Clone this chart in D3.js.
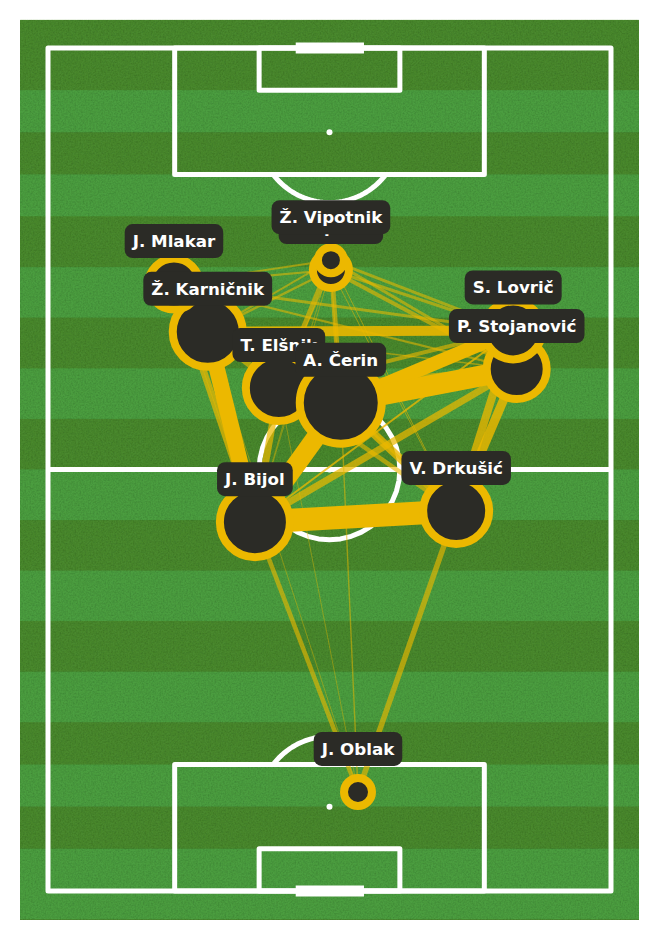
<!DOCTYPE html>
<html><head><meta charset="utf-8">
<script src="https://cdnjs.cloudflare.com/ajax/libs/d3/7.8.5/d3.min.js"></script>
<style>html,body{margin:0;padding:0;background:#fff}svg{display:block}</style>
</head><body><svg id="c" width="658" height="940"></svg>
<script>
// Player positions in pitch yards (x across 0-80, y from top goal 0-120)
const playerNames = ["J. Oblak","Ž. Karničnik","V. Drkušić","J. Bijol","P. Stojanović","T. Elšnik","A. Čerin","J. Mlakar","A. Šporar","Ž. Vipotnik","S. Lovrič"];
const playerX = [44.05,22.7,58.0,29.4,66.6,32.8,41.6,17.9,40.2,40.2,66.1];
const playerY = [105.9,40.4,65.9,67.5,45.7,48.4,50.5,33.6,31.6,30.2,40.2];
const playerPasses = [10,31,29,31,26,29,37,21.5,14,9,25];
// Pass links: source name index, target name index, pass weight
const linkSource = [0,0,0,0,0,3,3,3,3,3,3,3,3,3,7,6,6,6,5,2,2,1,5,5,1,1,7,7,8,9,9,8,9,9,8,7,7,7,1,1,6,4,2,2,5,2,3,1];
const linkTarget = [3,2,1,5,6,2,6,1,5,4,10,7,9,8,3,4,10,2,2,4,10,10,4,10,9,8,9,8,10,10,4,4,5,6,6,10,4,5,5,6,5,10,8,9,8,6,10,4];
const linkWeight = [4.5,5.5,.8,.8,1.4,23,19,16,7,7,1.5,.9,.8,.8,7,21,14,8,4.5,9,8,10,5,4,2,2.4,2,2,3,3,3,4,5,5,1,3,2.4,2,6,3,5,6,1,1,1.5,3,2,1.5];
// Stripe boundaries in pitch yards
const stripeEdges = [-4,6,12,18,24,31.2,38.4,45.6,52.8,60,67.2,74.4,81.6,88.8,96,102,108,114,124];

const GOLD="#ecb800", DARK="#2b2b26", WHITE="#ffffff", STRIPE_D="#48882f", STRIPE_L="#4c9d40";
const x=d3.scaleLinear().domain([0,80]).range([48,611]);
const y=d3.scaleLinear().domain([0,120]).range([48,891]);
const opacity=d3.scaleLinear().domain([0.8,6,12]).range([.5,.66,1]).clamp(true);
const svg=d3.select("#c");

const defs=svg.append("defs");
const f=defs.append("filter").attr("id","noise").attr("x",0).attr("y",0).attr("width","100%").attr("height","100%");
f.append("feTurbulence").attr("type","fractalNoise").attr("baseFrequency",.6).attr("numOctaves",2).attr("seed",4).attr("result","n");
f.append("feColorMatrix").attr("in","n").attr("type","matrix").attr("values","0 0 0 0 0  0 0 0 0 0  0 0 0 0 0  .5 0 0 0 -.18").attr("result","a");
f.append("feComposite").attr("in","a").attr("in2","SourceGraphic").attr("operator","in").attr("result","b");
f.append("feMerge").selectAll("feMergeNode").data(["SourceGraphic","b"]).join("feMergeNode").attr("in",d=>d);

const bg=svg.append("g").attr("filter","url(#noise)");
bg.append("rect").attr("x",20).attr("y",20).attr("width",619).attr("height",900).attr("fill",STRIPE_D);
bg.selectAll(".stripe").data(d3.pairs(stripeEdges)).join("rect").attr("class","stripe")
  .attr("x",20).attr("width",619)
  .attr("y",d=>y(d[0]))
  .attr("height",d=>y(d[1])-y(d[0]))
  .attr("fill",(d,i)=>i%2?STRIPE_L:STRIPE_D);

const lines=svg.append("g").attr("fill","none").attr("stroke",WHITE).attr("stroke-width",5).attr("stroke-linejoin","round");
function box(a,b,c,d){lines.append("rect").attr("x",x(a)).attr("y",y(b)).attr("width",x(c)-x(a)).attr("height",y(d)-y(b));}
function arc(cy,a0,a1){
  const n=40;
  const pts=d3.range(n+1).map(i=>{const t=(a0+(a1-a0)*i/n)*Math.PI/180;return [x(40)+(x(10)-x(0))*Math.cos(t),y(cy)+(y(10)-y(0))*Math.sin(t)];});
  lines.append("path").attr("d",d3.line()(pts));
}
arc(12,37,143);
arc(108,217,323);
box(0,0,80,120);
box(18,0,62,18);box(30,0,50,6);box(18,102,62,120);box(30,114,50,120);
lines.append("path").attr("d",d3.line()([[x(0),y(60)],[x(80),y(60)]]));
arc(60,0,360);
[[40,12],[40,108],[40,60]].forEach(d=>svg.append("circle").attr("cx",x(d[0])).attr("cy",y(d[1])).attr("r",3).attr("fill",WHITE));
[0,120].forEach(v=>svg.append("line").attr("x1",x(35.2)).attr("x2",x(44.9)).attr("y1",y(v)).attr("y2",y(v)).attr("stroke",WHITE).attr("stroke-width",11));

const links=svg.append("g");
linkWeight.map((w,i)=>({s:linkSource[i],t:linkTarget[i],w})).sort((a,b)=>a.w-b.w).forEach(l=>{
  links.append("line").attr("x1",x(playerX[l.s])).attr("y1",y(playerY[l.s])).attr("x2",x(playerX[l.t])).attr("y2",y(playerY[l.t]))
    .attr("stroke",GOLD).attr("stroke-width",l.w).attr("stroke-opacity",opacity(l.w));
});

svg.append("g").selectAll("circle").data(playerNames).join("circle")
  .attr("cx",(d,i)=>x(playerX[i])).attr("cy",(d,i)=>y(playerY[i]))
  .attr("r",(d,i)=>playerPasses[i]+4).attr("fill",DARK).attr("stroke",GOLD).attr("stroke-width",8);

const lab=svg.append("g").attr("font-family","DejaVu Sans").attr("font-weight","bold").attr("font-size",16.7);
playerNames.forEach((n,i)=>{
  const cx=x(playerX[i]), cy=y(playerY[i])-43;
  const g=lab.append("g");
  const rc=g.append("rect").attr("fill",DARK).attr("rx",8).attr("ry",8);
  const t=g.append("text").attr("x",cx).attr("y",cy+5.8).attr("text-anchor","middle").attr("fill",WHITE).text(n);
  const w=t.node().getComputedTextLength()+16;
  rc.attr("x",cx-w/2).attr("y",cy-17).attr("width",w).attr("height",34);
});
</script></body></html>
